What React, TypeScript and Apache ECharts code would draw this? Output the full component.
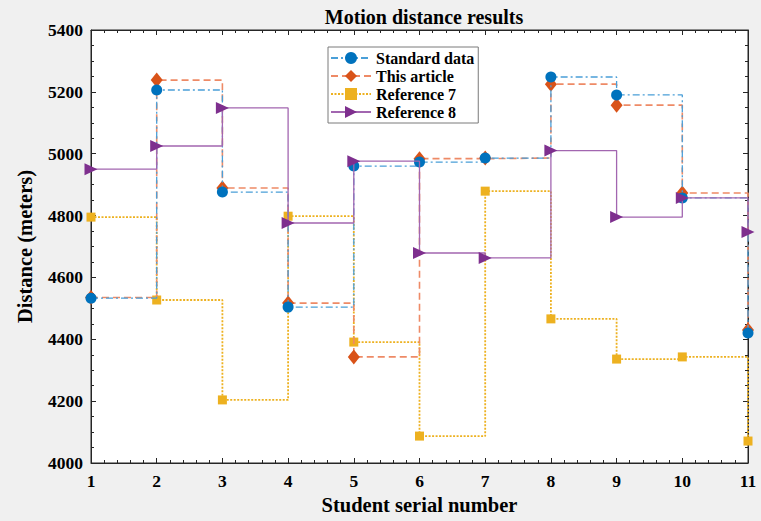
import React, { useEffect, useRef } from "react";
import * as echarts from "echarts";

const students = [1, 2, 3, 4, 5, 6, 7, 8, 9, 10, 11];
const standardData = [4533, 5206, 4876, 4504, 4960, 4973, 4986, 5248, 5190, 4857, 4420];
const thisArticle = [4535, 5238, 4889, 4517, 4343, 4984, 4986, 5225, 5157, 4873, 4430];
const reference7 = [4795, 4527, 4204, 4798, 4391, 4087, 4879, 4466, 4336, 4343, 4071];
const reference8 = [4950, 5025, 5148, 4776, 4976, 4679, 4663, 5010, 4795, 4857, 4747];
const yTicks = [4000, 4200, 4400, 4600, 4800, 5000, 5200, 5400];

const FONT = "'Liberation Serif', 'Times New Roman', serif";

export default function App() {
  const ref = useRef<HTMLDivElement>(null);
  useEffect(() => {
    if (!ref.current) return;
    const chart = echarts.init(ref.current, undefined, { renderer: "svg" });
    const pairs = (arr: number[]) => students.map((s, i) => [s, arr[i]]);
    const axisLine = { show: true, onZero: false, lineStyle: { color: "#262626", width: 1 } };
    const axisTick = { show: true, inside: true, length: 5, lineStyle: { color: "#262626" } };
    const minorTick = { show: true, length: 3, lineStyle: { color: "#262626" } };
    const labelStyle = { color: "#000", fontFamily: FONT, fontWeight: "bold" as const, fontSize: 17.5 };
    const nameStyle = { fontFamily: FONT, fontWeight: "bold" as const, fontSize: 20.5, color: "#000" };
    chart.setOption({
      animation: false,
      backgroundColor: "#f0f0f0",
      title: {
        text: "Motion distance results",
        left: 419,
        textAlign: "center",
        top: 2,
        textStyle: { fontFamily: FONT, fontWeight: "bold", fontSize: 20, color: "#000" },
      },
      grid: {
        left: 91,
        right: 13,
        top: 30,
        bottom: 58,
        show: true,
        backgroundColor: "#ffffff",
        borderColor: "#262626",
        borderWidth: 1,
      },
      legend: {
        left: 328,
        top: 47,
        orient: "vertical",
        backgroundColor: "#ffffff",
        borderColor: "#7a7a7a",
        borderWidth: 1,
        padding: [3, 4, 3, 2],
        itemGap: 2,
        itemWidth: 40,
        itemHeight: 15,
        textStyle: { fontFamily: FONT, fontWeight: "bold", fontSize: 16, color: "#000" },
      },
      xAxis: [
        {
          type: "value",
          min: 1,
          max: 11,
          interval: 1,
          position: "bottom",
          name: "Student serial number",
          nameLocation: "middle",
          nameGap: 29,
          nameTextStyle: nameStyle,
          axisLabel: { ...labelStyle, margin: 9 },
          minorTick: { ...minorTick, splitNumber: 5 },
          axisLine,
          axisTick,
          splitLine: { show: false },
        },
        {
          type: "value",
          min: 1,
          max: 11,
          interval: 1,
          position: "top",
          axisLabel: { show: false },
          minorTick: { ...minorTick, splitNumber: 5 },
          axisLine,
          axisTick,
          splitLine: { show: false },
        },
      ],
      yAxis: [
        {
          type: "value",
          min: yTicks[0],
          max: yTicks[yTicks.length - 1],
          interval: 200,
          position: "left",
          name: "Distance (meters)",
          nameLocation: "middle",
          nameGap: 56,
          nameTextStyle: nameStyle,
          axisLabel: { ...labelStyle, margin: 8, formatter: (v: number) => String(v) },
          minorTick: { ...minorTick, splitNumber: 4 },
          axisLine,
          axisTick,
          splitLine: { show: false },
        },
        {
          type: "value",
          min: yTicks[0],
          max: yTicks[yTicks.length - 1],
          interval: 200,
          position: "right",
          axisLabel: { show: false },
          minorTick: { ...minorTick, splitNumber: 4 },
          axisLine,
          axisTick,
          splitLine: { show: false },
        },
      ],
      series: [
        {
          name: "Standard data",
          type: "line",
          step: "end",
          data: pairs(standardData),
          symbol: "circle",
          symbolSize: 11,
          itemStyle: { color: "#0072BD" },
          lineStyle: { color: "#4a9fd8", width: 1.3, type: [7, 3, 2, 3] },
          z: 4,
        },
        {
          name: "This article",
          type: "line",
          step: "end",
          data: pairs(thisArticle),
          symbol: "diamond",
          symbolSize: [12, 15],
          itemStyle: { color: "#D95319" },
          lineStyle: { color: "#ee8a66", width: 1.6, type: [7, 4] },
          z: 3,
        },
        {
          name: "Reference 7",
          type: "line",
          step: "end",
          data: pairs(reference7),
          symbol: "rect",
          symbolSize: 9,
          itemStyle: { color: "#EDB120" },
          lineStyle: { color: "#EDB120", width: 1.8, type: [2, 1.5] },
          z: 2,
        },
        {
          name: "Reference 8",
          type: "line",
          step: "end",
          data: pairs(reference8),
          symbol: "triangle",
          symbolRotate: -90,
          symbolSize: [12, 13],
          itemStyle: { color: "#7E2F8E" },
          lineStyle: { color: "#a266b0", width: 1.3, type: "solid" },
          z: 5,
        },
      ],
    });
    return () => chart.dispose();
  }, []);
  return (
    <div
      ref={ref}
      style={{ position: "absolute", left: 0, top: 0, width: 761, height: 521 }}
    />
  );
}
